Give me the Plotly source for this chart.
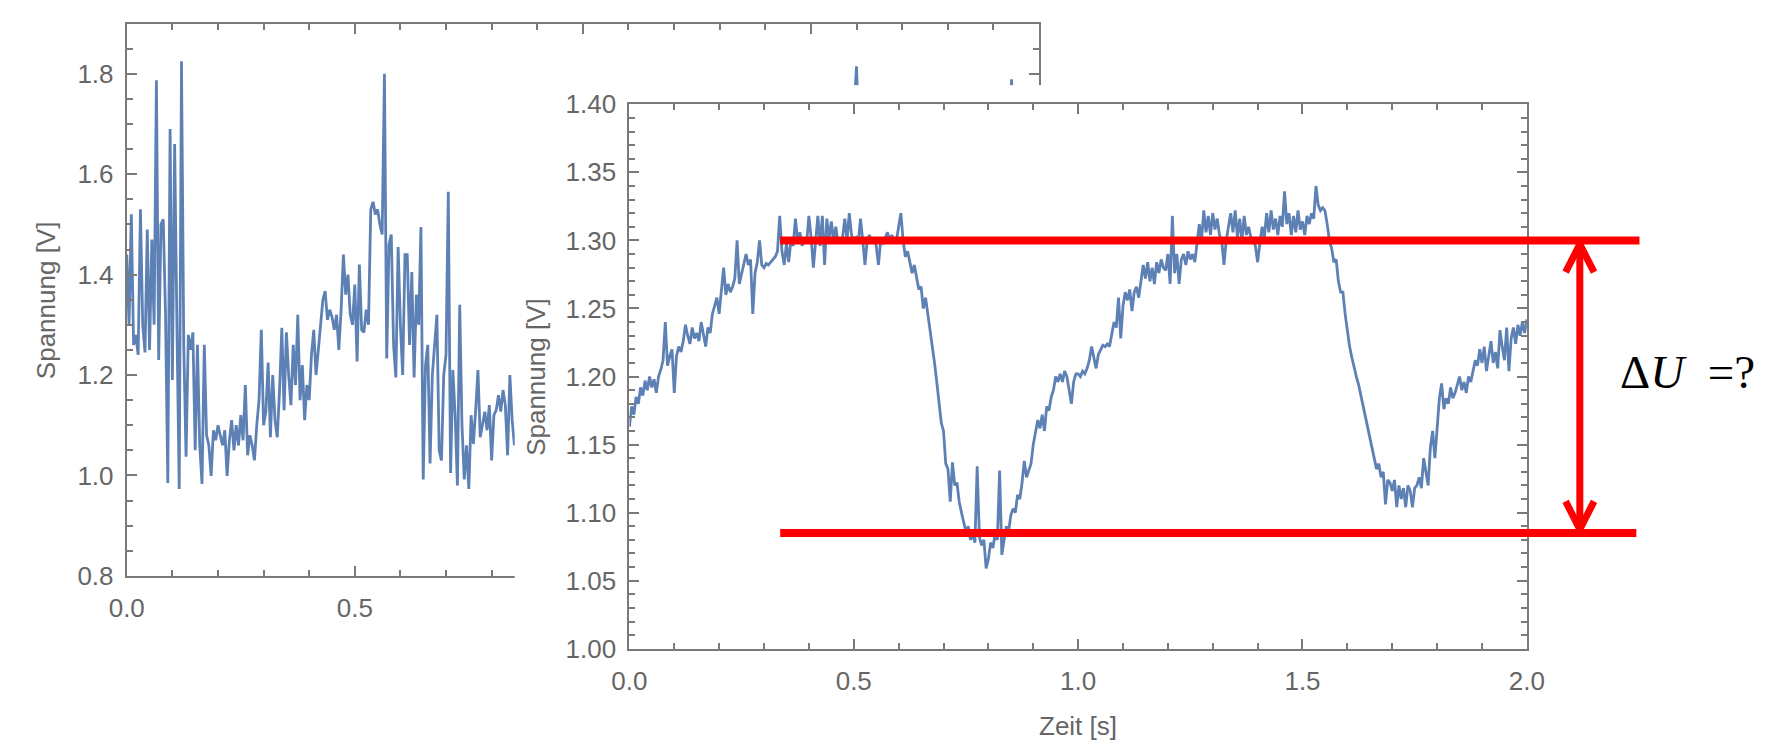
import plotly.graph_objects as go

W, H = 1781, 755

# ---------------- data ----------------
# front measurement: voltage sampled every 5 ms
t_front = [round(i * 0.005, 3) for i in range(401)]
u_front = [
    1.163, 1.178, 1.172, 1.185, 1.180, 1.192, 1.186, 1.197, 1.190, 1.200,
    1.192, 1.198, 1.188, 1.200, 1.205, 1.212, 1.240, 1.208, 1.215, 1.220,
    1.188, 1.215, 1.222, 1.218, 1.226, 1.238, 1.230, 1.224, 1.236, 1.228,
    1.232, 1.226, 1.240, 1.230, 1.222, 1.236, 1.232, 1.246, 1.252, 1.258,
    1.246, 1.262, 1.280, 1.260, 1.268, 1.262, 1.266, 1.272, 1.300, 1.268,
    1.276, 1.284, 1.290, 1.282, 1.286, 1.246, 1.276, 1.284, 1.300, 1.282,
    1.280, 1.283, 1.282, 1.284, 1.286, 1.288, 1.292, 1.318, 1.292, 1.282,
    1.298, 1.284, 1.300, 1.296, 1.316, 1.300, 1.306, 1.296, 1.302, 1.298,
    1.318, 1.302, 1.280, 1.300, 1.318, 1.296, 1.318, 1.282, 1.316, 1.300,
    1.314, 1.300, 1.310, 1.298, 1.300, 1.302, 1.316, 1.300, 1.320, 1.304,
    1.300, 1.302, 1.298, 1.316, 1.300, 1.282, 1.300, 1.304, 1.298, 1.302,
    1.296, 1.282, 1.300, 1.298, 1.302, 1.306, 1.300, 1.304, 1.298, 1.300,
    1.310, 1.320, 1.300, 1.288, 1.292, 1.284, 1.276, 1.282, 1.272, 1.264,
    1.266, 1.250, 1.258, 1.246, 1.238, 1.222, 1.210, 1.196, 1.180, 1.166,
    1.160, 1.136, 1.132, 1.108, 1.137, 1.120, 1.122, 1.108, 1.100, 1.094,
    1.086, 1.090, 1.080, 1.084, 1.078, 1.134, 1.082, 1.076, 1.080, 1.059,
    1.066, 1.078, 1.074, 1.084, 1.080, 1.131, 1.069, 1.080, 1.090, 1.086,
    1.098, 1.103, 1.100, 1.113, 1.110, 1.122, 1.138, 1.126, 1.132, 1.136,
    1.150, 1.159, 1.168, 1.162, 1.172, 1.160, 1.178, 1.175, 1.185, 1.190,
    1.200, 1.196, 1.202, 1.196, 1.204, 1.200, 1.188, 1.180, 1.196, 1.202,
    1.202, 1.200, 1.204, 1.202, 1.206, 1.212, 1.222, 1.214, 1.206, 1.216,
    1.220, 1.223, 1.222, 1.224, 1.222, 1.232, 1.240, 1.236, 1.258, 1.228,
    1.252, 1.262, 1.256, 1.264, 1.248, 1.262, 1.266, 1.258, 1.270, 1.282,
    1.272, 1.284, 1.270, 1.280, 1.268, 1.284, 1.276, 1.286, 1.280, 1.278,
    1.290, 1.268, 1.318, 1.276, 1.290, 1.268, 1.286, 1.290, 1.282, 1.292,
    1.286, 1.290, 1.284, 1.296, 1.312, 1.300, 1.322, 1.306, 1.318, 1.304,
    1.320, 1.308, 1.316, 1.304, 1.300, 1.282, 1.300, 1.310, 1.320, 1.306,
    1.322, 1.302, 1.316, 1.300, 1.318, 1.304, 1.310, 1.302, 1.300, 1.296,
    1.284, 1.298, 1.310, 1.302, 1.320, 1.306, 1.322, 1.308, 1.316, 1.304,
    1.318, 1.310, 1.336, 1.312, 1.320, 1.304, 1.318, 1.306, 1.322, 1.308,
    1.314, 1.304, 1.318, 1.312, 1.320, 1.316, 1.340, 1.326, 1.322, 1.324,
    1.322, 1.312, 1.300, 1.294, 1.284, 1.286, 1.270, 1.262, 1.262, 1.246,
    1.232, 1.222, 1.214, 1.206, 1.200, 1.194, 1.186, 1.178, 1.170, 1.162,
    1.156, 1.148, 1.140, 1.132, 1.136, 1.126, 1.130, 1.106, 1.124, 1.122,
    1.116, 1.124, 1.104, 1.120, 1.110, 1.118, 1.104, 1.120, 1.116, 1.104,
    1.118, 1.120, 1.126, 1.118, 1.140, 1.128, 1.120, 1.148, 1.160, 1.140,
    1.166, 1.184, 1.195, 1.176, 1.184, 1.180, 1.192, 1.184, 1.188, 1.194,
    1.200, 1.190, 1.196, 1.188, 1.200, 1.196, 1.204, 1.212, 1.208, 1.220,
    1.210, 1.222, 1.204, 1.216, 1.226, 1.210, 1.218, 1.206, 1.234, 1.222,
    1.212, 1.236, 1.204, 1.228, 1.236, 1.224, 1.238, 1.230, 1.240, 1.232,
    1.242,
]

# rear (noisy) measurement: 5 ms samples up to 0.85 s, then 20 ms samples
t_back = [round(i * 0.005, 3) for i in range(171)] + [round(0.86 + 0.02 * k, 2) for k in range(58)]
u_back = [
    1.44, 1.30, 1.52, 1.26, 1.28, 1.24, 1.53, 1.30, 1.245, 1.49,
    1.25, 1.47, 1.30, 1.787, 1.23, 1.50, 1.51, 1.32, 0.985, 1.69,
    1.19, 1.66, 1.30, 0.973, 1.825, 1.26, 1.037, 1.28, 1.25, 1.285,
    1.05, 1.26, 1.06, 0.983, 1.26, 1.08, 1.06, 0.999, 1.09, 1.07,
    1.10, 1.08, 1.06, 1.09, 0.999, 1.07, 1.11, 1.05, 1.10, 1.06,
    1.12, 1.07, 1.18, 1.04, 1.08, 1.06, 1.03, 1.10, 1.15, 1.29,
    1.10, 1.127, 1.225, 1.076, 1.20, 1.11, 1.076, 1.17, 1.294, 1.13,
    1.285, 1.20, 1.14, 1.26, 1.18, 1.32, 1.15, 1.22, 1.11, 1.18,
    1.15, 1.24, 1.29, 1.20, 1.25, 1.30, 1.35, 1.367, 1.31, 1.33,
    1.316, 1.29, 1.32, 1.25, 1.33, 1.44, 1.36, 1.40, 1.32, 1.30,
    1.38, 1.227, 1.42, 1.29, 1.285, 1.33, 1.30, 1.53, 1.545, 1.52,
    1.53, 1.50, 1.48, 1.80, 1.233, 1.46, 1.48, 1.26, 1.195, 1.455,
    1.30, 1.20, 1.44, 1.44, 1.26, 1.405, 1.195, 1.36, 1.30, 1.495,
    0.992, 1.22, 1.26, 1.024, 1.20, 1.26, 1.32, 1.05, 1.03, 1.20,
    1.24, 1.565, 1.005, 1.21, 1.12, 0.98, 1.34, 1.10, 0.992, 1.06,
    0.973, 1.12, 1.063, 1.13, 1.21, 1.076, 1.10, 1.127, 1.09, 1.14,
    1.03, 1.12, 1.13, 1.16, 1.127, 1.17, 1.14, 1.04, 1.20, 1.11,
    1.06,
    # 0.86 s .. 2.00 s
    1.10, 1.05, 1.15, 1.02, 1.12, 1.08, 1.20, 1.06, 1.18, 1.10,
    1.22, 1.12, 1.25, 1.15, 1.28, 1.18, 1.30, 1.22, 1.33, 1.25,
    1.36, 1.28, 1.40, 1.30, 1.42, 1.33, 1.45, 1.35, 1.48, 1.38,
    1.52, 1.40, 1.55, 1.42, 1.58, 1.45, 1.50, 1.815, 1.30, 1.45,
    1.10, 1.35, 1.05, 1.25, 1.00, 1.15, 1.05, 1.20, 1.08, 1.22,
    1.10, 1.25, 1.12, 1.30, 1.789, 1.15, 1.28, 1.18,
]

# tick labels
back_x_ticks = [0.0, 0.5, 1.0, 1.5, 2.0]
back_x_labels = ["0.0", "0.5", "1.0", "1.5", "2.0"]
back_y_ticks = [0.8, 1.0, 1.2, 1.4, 1.6, 1.8]
back_y_labels = ["0.8", "1.0", "1.2", "1.4", "1.6", "1.8"]
front_x_ticks = [0.0, 0.5, 1.0, 1.5, 2.0]
front_x_labels = ["0.0", "0.5", "1.0", "1.5", "2.0"]
front_y_ticks = [1.00, 1.05, 1.10, 1.15, 1.20, 1.25, 1.30, 1.35, 1.40]
front_y_labels = ["1.00", "1.05", "1.10", "1.15", "1.20", "1.25", "1.30", "1.35", "1.40"]

# marked voltage levels (maximum / minimum) and the span of the marker lines
u_max_level = 1.30
u_min_level = 1.085
t_level_start = 0.336
t_level_end_top = 2.251
t_level_end_bottom = 2.244
t_arrow = 2.118

# ---------------- layout geometry (pixels) ----------------
BACK_L, BACK_R, BACK_T, BACK_B = 111, 1042, 9, 584
COVER_L, COVER_T = 507, 73
FRONT_L, FRONT_R, FRONT_T, FRONT_B = 624, 1540, 93, 660

BACK_X_RANGE = [0, 2]
BACK_Y_RANGE = [0.8, 1.9]
FRONT_X_RANGE = [0, 2]
FRONT_Y_RANGE = [1.0, 1.4]


def fx(px):
    return px / W


def fy(px):
    return 1 - px / H


LINE_BLUE = "#5e81b5"
FRAME = "#7a7a7a"
LABEL = "#666666"
RED = "#ff0000"
FONT = "Liberation Sans"


def frame_axis(domain, rng, tickvals, ticktext, minor_dtick, minor_tick0, anchor):
    return dict(
        domain=domain, range=rng, anchor=anchor,
        showline=True, linecolor=FRAME, linewidth=2, mirror="allticks",
        ticks="inside", ticklen=10, tickwidth=1.6, tickcolor=FRAME,
        tickmode="array", tickvals=tickvals, ticktext=ticktext,
        tickfont=dict(family=FONT, size=26, color=LABEL),
        minor=dict(ticks="inside", ticklen=6, tickwidth=1.6, tickcolor=FRAME,
                   dtick=minor_dtick, tick0=minor_tick0, showgrid=False),
        showgrid=False, zeroline=False, fixedrange=True,
    )


fig = go.Figure()

fig.add_trace(go.Scatter(
    x=t_back, y=u_back, mode="lines", xaxis="x", yaxis="y",
    line=dict(color=LINE_BLUE, width=2.8), hoverinfo="skip", showlegend=False,
))
# empty panel whose white background hides the rear plot behind the front one
fig.add_trace(go.Scatter(x=[], y=[], xaxis="x2", yaxis="y2", showlegend=False, hoverinfo="skip"))
fig.add_trace(go.Scatter(
    x=t_front, y=u_front, mode="lines", xaxis="x3", yaxis="y3",
    line=dict(color=LINE_BLUE, width=2.8), hoverinfo="skip", showlegend=False,
))

layout = dict(
    width=W, height=H,
    margin=dict(l=0, r=0, t=0, b=0),
    paper_bgcolor="white", plot_bgcolor="white",
    showlegend=False,
    xaxis=frame_axis([fx(BACK_L), fx(BACK_R)], BACK_X_RANGE, back_x_ticks, back_x_labels, 0.1, 0, "y"),
    yaxis=frame_axis([fy(BACK_B), fy(BACK_T)], BACK_Y_RANGE, back_y_ticks, back_y_labels, 0.05, 0.8, "x"),
    xaxis2=dict(domain=[fx(COVER_L), 1], range=[0, 1], visible=False, anchor="y2", fixedrange=True),
    yaxis2=dict(domain=[0, fy(COVER_T)], range=[0, 1], visible=False, anchor="x2", fixedrange=True),
    xaxis3=frame_axis([fx(FRONT_L), fx(FRONT_R)], FRONT_X_RANGE, front_x_ticks, front_x_labels, 0.1, 0, "y3"),
    yaxis3=frame_axis([fy(FRONT_B), fy(FRONT_T)], FRONT_Y_RANGE, front_y_ticks, front_y_labels, 0.01, 1.0, "x3"),
)
layout["xaxis"]["ticklabelstandoff"] = 8
layout["xaxis3"]["ticklabelstandoff"] = 8
layout["yaxis"]["ticklabelstandoff"] = 6
layout["yaxis3"]["ticklabelstandoff"] = 6
fig.update_layout(**layout)


# positions relative to the front panel's axis domains
def dx(t):
    return (t - FRONT_X_RANGE[0]) / (FRONT_X_RANGE[1] - FRONT_X_RANGE[0])


def dy(u):
    return (u - FRONT_Y_RANGE[0]) / (FRONT_Y_RANGE[1] - FRONT_Y_RANGE[0])


plot_w = FRONT_R - FRONT_L
plot_h = FRONT_B - FRONT_T
ref = dict(xref="x3 domain", yref="y3 domain", layer="above")

shapes = [
    dict(type="line", x0=dx(t_level_start), x1=dx(t_level_end_top),
         y0=dy(u_max_level), y1=dy(u_max_level), line=dict(color=RED, width=8), **ref),
    dict(type="line", x0=dx(t_level_start), x1=dx(t_level_end_bottom),
         y0=dy(u_min_level), y1=dy(u_min_level), line=dict(color=RED, width=8), **ref),
]

xa = dx(t_arrow)
tip_gap = 4 / plot_h
y_top = dy(u_max_level) - tip_gap
y_bot = dy(u_min_level) + tip_gap
head_w = 14.5 / plot_w
head_h = 29 / plot_h
shapes.append(dict(type="line", x0=xa, x1=xa, y0=y_bot, y1=y_top,
                   line=dict(color=RED, width=7), **ref))
shapes.append(dict(type="path",
                   path=f"M {xa - head_w},{y_top - head_h} L {xa},{y_top} L {xa + head_w},{y_top - head_h}",
                   line=dict(color=RED, width=7), **ref))
shapes.append(dict(type="path",
                   path=f"M {xa - head_w},{y_bot + head_h} L {xa},{y_bot} L {xa + head_w},{y_bot + head_h}",
                   line=dict(color=RED, width=7), **ref))
fig.update_layout(shapes=shapes)

title_font = dict(family=FONT, size=26, color=LABEL)
annotations = [
    dict(text="Spannung [V]", x=fx(28), y=fy((BACK_T + BACK_B) / 2), xref="paper", yref="paper",
         textangle=-90, showarrow=False, font=title_font, xanchor="center", yanchor="middle"),
    dict(text="Spannung [V]", x=fx(528), y=fy((FRONT_T + FRONT_B) / 2), xref="paper", yref="paper",
         textangle=-90, showarrow=False, font=title_font, xanchor="center", yanchor="middle"),
    dict(text="Zeit [s]", x=fx((FRONT_L + FRONT_R) / 2), y=fy(740), xref="paper", yref="paper",
         showarrow=False, font=title_font, xanchor="center", yanchor="middle"),
    dict(text="\u0394<i>U</i>\u2002=?", x=fx(1633), y=fy(372), xref="paper", yref="paper",
         showarrow=False, xanchor="left", yanchor="middle",
         font=dict(family="Liberation Serif", size=47, color="black")),
]
fig.update_layout(annotations=annotations)

fig.write_html(
    "out.html",
    config={"displayModeBar": False},
    post_script="document.body.style.margin = '0'; document.body.style.overflow = 'hidden';",
)
